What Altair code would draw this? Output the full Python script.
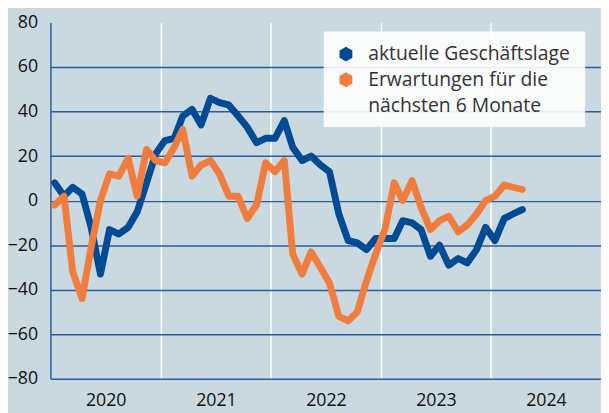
import altair as alt
import pandas as pd

# ---- data ----
start_month = "2020-01-01"
n_months = 52
series_names = ["aktuelle Geschäftslage", "Erwartungen für die|nächsten 6 Monate"]
lage = [8, 2, 6, 3, -12, -33, -13, -15, -12, -5, 8, 21,
        27, 28, 38, 41, 34, 46, 44, 43, 38, 33, 26, 28,
        28, 36, 24, 18, 20, 16, 13, -6, -18, -19, -22, -17,
        -17, -17, -9, -10, -13, -25, -20, -29, -26, -28, -22, -12,
        -18, -8, -6, -4]
erwartungen = [-2, 2, -32, -44, -21, 0, 12, 11, 19, 2, 23, 18,
               17, 24, 32, 11, 16, 18, 12, 2, 2, -8, -2, 17,
               13, 18, -24, -33, -23, -30, -37, -52, -54, -50, -36, -24,
               -13, 8, 0, 9, -3, -13, -9, -7, -14, -11, -6, 0,
               2, 7, 6, 5]
years = [2020, 2021, 2022, 2023, 2024]
y_ticks = [-80, -60, -40, -20, 0, 20, 40, 60, 80]

BLUE = "#004b93"
ORANGE = "#f07c3e"
BG = "#c9d9df"
GRID = "#2b5d9b"
FONT = "Open Sans"

months = pd.date_range(start_month, periods=n_months, freq="MS") + pd.Timedelta(days=14)
dates = [d.strftime("%Y-%m-%dT00:00:00") for d in months]

df = pd.DataFrame({
    "date": dates * 2,
    "value": lage + erwartungen,
    "series": [series_names[0]] * n_months + [series_names[1]] * n_months,
})
legend_df = pd.DataFrame({"series": series_names})

HEX = "M0,-1L0.866,-0.5L0.866,0.5L0,1L-0.866,0.5L-0.866,-0.5Z"

color_scale = alt.Scale(domain=series_names, range=[BLUE, ORANGE])
color = alt.Color("series:N", scale=color_scale, legend=None)

x = alt.X(
    "date:T",
    title=None,
    scale=alt.Scale(domain=[alt.DateTime(year=2020, month=1, date=1),
                            alt.DateTime(year=2025, month=1, date=1)]),
    axis=alt.Axis(
        values=[alt.DateTime(year=y, month=1, date=1) for y in years],
        format="%Y", labelOffset=56, labelFlush=False,
        grid=True, gridColor="white", gridWidth=1.5,
        gridOpacity={"condition": {"test": "year(datum.value) == 2020", "value": 0}, "value": 1},
        domain=False, ticks=False, labelPadding=13,
        labelFont=FONT, labelFontSize=18, labelColor="#111111",
    ),
)

y = alt.Y(
    "value:Q",
    title=None,
    scale=alt.Scale(domain=[-80, 80], nice=False),
    axis=alt.Axis(
        values=y_ticks, grid=True, gridColor=GRID, gridWidth=1.5,
        gridOpacity={"condition": {"test": "datum.value == 80", "value": 0}, "value": 1},
        domain=True, domainColor=GRID, domainWidth=1.5,
        ticks=False, labelPadding=13,
        labelFont=FONT, labelFontSize=18, labelColor="#111111",
    ),
)

base = alt.Chart(df).mark_line(strokeWidth=7, strokeCap="round", strokeJoin="round").encode(
    x=x, y=y, color=color
)
blue_line = base.transform_filter(alt.datum.series == series_names[0])
orange_line = base.transform_filter(alt.datum.series == series_names[1])

# ---- legend built from legend_df ----
leg = alt.Chart(legend_df)
box = leg.transform_filter(alt.datum.series == series_names[0]).mark_rect(
    fill="white", opacity=0.9
).encode(x=alt.value(277), x2=alt.value(542), y=alt.value(9), y2=alt.value(106))

entry_y = [32, 58]
legend_layers = [box]
for name, ey in zip(series_names, entry_y):
    sub = leg.transform_filter(alt.datum.series == name)
    legend_layers.append(
        sub.mark_point(shape=HEX, filled=True, size=225, opacity=1).encode(
            x=alt.value(299.5), y=alt.value(ey), color=color
        )
    )
    legend_layers.append(
        sub.mark_text(align="left", baseline="middle", font=FONT, fontSize=19.6,
                      color="#333333", lineBreak="|", lineHeight=27).encode(
            x=alt.value(322), y=alt.value(ey), text="series:N"
        )
    )

chart = alt.layer(blue_line, orange_line, *legend_layers).properties(
    width=558, height=361,
    autosize=alt.AutoSizeParams(type="none"),
    padding={"left": 43, "top": 12, "right": 0, "bottom": 32},
    background=BG,
).configure_view(strokeWidth=0)

chart.save("out.html", embed_options={"renderer": "svg", "actions": False})
